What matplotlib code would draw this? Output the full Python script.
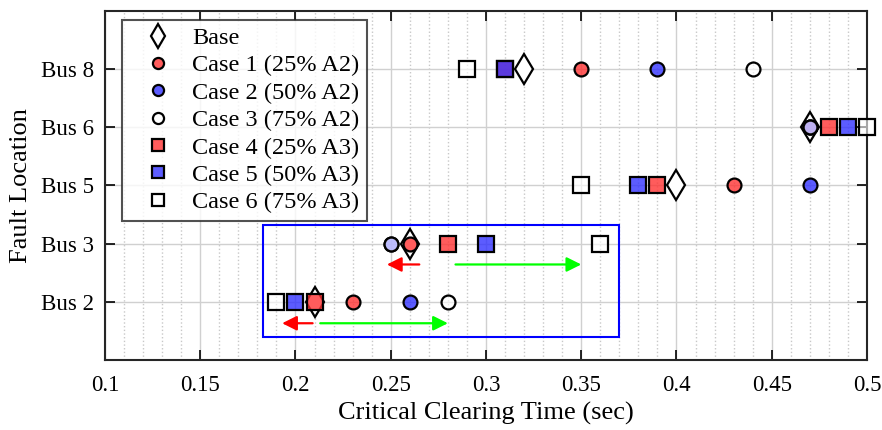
import numpy as np
import matplotlib
matplotlib.use("Agg")
import matplotlib.pyplot as plt
from matplotlib.patches import Rectangle
from matplotlib.ticker import MultipleLocator

plt.rcParams["font.family"] = ["Liberation Serif", "DejaVu Serif"]

# Data (critical clearing time, sec)
buses = ["Bus 2", "Bus 3", "Bus 5", "Bus 6", "Bus 8"]
base = [0.21, 0.26, 0.40, 0.47, 0.32]
case1 = [0.23, 0.26, 0.43, 0.47, 0.35]
case2 = [0.26, 0.25, 0.47, 0.47, 0.39]
case3 = [0.28, 0.25, np.nan, 0.47, 0.44]
case4 = [0.21, 0.28, 0.39, 0.48, 0.31]
case5 = [0.20, 0.30, 0.38, 0.49, 0.31]
case6 = [0.19, 0.36, 0.35, 0.50, 0.29]

labels = ["Base", "Case 1 (25% A2)", "Case 2 (50% A2)", "Case 3 (75% A2)",
          "Case 4 (25% A3)", "Case 5 (50% A3)", "Case 6 (75% A3)"]

RED = (1.0, 0.2, 0.2, 0.8)
BLUE = (0.2, 0.2, 1.0, 0.8)
WHITE = (1.0, 1.0, 1.0, 0.6)

series = [
    (base, "d", "white", 15),
    (case1, "o", RED, 10),
    (case2, "o", BLUE, 10),
    (case3, "o", WHITE, 10),
    (case4, "s", RED, 11),
    (case5, "s", BLUE, 11),
    (case6, "s", WHITE, 11),
]

fig = plt.figure(figsize=(8.82, 4.30), dpi=100)
ax = fig.add_axes([0.119, 0.163, 0.864, 0.812])

y = np.arange(1, len(buses) + 1)
for (vals, mk, fc, ms), lab in zip(series, labels):
    ax.plot(vals, y, linestyle="none", marker=mk, markersize=ms,
            markerfacecolor=fc, markeredgecolor="black", markeredgewidth=1.6,
            label=lab, zorder=3, clip_on=False)

# Highlight box and arrows
ax.add_patch(Rectangle((0.183, 0.40), 0.370 - 0.183, 2.31 - 0.40,
                       fill=False, edgecolor="blue", linewidth=1.5, zorder=4))
arrows = [
    (0.265, 0.248, 1.64, "red"),
    (0.284, 0.350, 1.64, (0, 1, 0)),
    (0.209, 0.193, 0.63, "red"),
    (0.213, 0.280, 0.63, (0, 1, 0)),
]
for x0, x1, yy, c in arrows:
    ax.annotate("", xy=(x1, yy), xytext=(x0, yy),
                arrowprops=dict(arrowstyle="-|>", color=c, lw=1.6,
                                mutation_scale=22, shrinkA=0, shrinkB=0),
                zorder=4)

ax.set_xlim(0.1, 0.5)
ax.set_ylim(0, 6)
ax.set_yticks(y)
ax.set_yticklabels(buses)
ax.xaxis.set_minor_locator(MultipleLocator(0.01))
ax.set_xticks(np.arange(0.1, 0.501, 0.05))
ax.set_xticklabels(["0.1", "0.15", "0.2", "0.25", "0.3", "0.35", "0.4", "0.45", "0.5"])

ax.grid(which="major", color="#d0d0d0", linewidth=1.0, zorder=0)
ax.grid(which="minor", axis="x", color="#c8c8c8", linestyle=":", linewidth=1.0, zorder=0)
ax.set_axisbelow(True)

ax.tick_params(which="major", direction="in", length=7, width=1.2,
               top=True, right=True, labelsize=16.5)
ax.tick_params(axis="x", pad=11)
ax.tick_params(axis="y", pad=8)
ax.tick_params(which="minor", length=0, top=True, right=True)
for s in ax.spines.values():
    s.set_linewidth(1.5)
    s.set_color("#262626")

ax.set_xlabel("Critical Clearing Time (sec)", fontsize=19, labelpad=4)
ax.set_ylabel("Fault Location", fontsize=19, labelpad=6)

leg = ax.legend(loc="upper left", bbox_to_anchor=(0.022, 0.974), fontsize=17.5,
                frameon=True, fancybox=False, edgecolor="#262626",
                labelspacing=0.22, handletextpad=0.2, borderpad=0.3,
                handlelength=2.4, borderaxespad=0, markerscale=0.8)
leg.get_frame().set_linewidth(1.5)
leg.set_zorder(5)

fig.savefig("out.png", dpi=100)
